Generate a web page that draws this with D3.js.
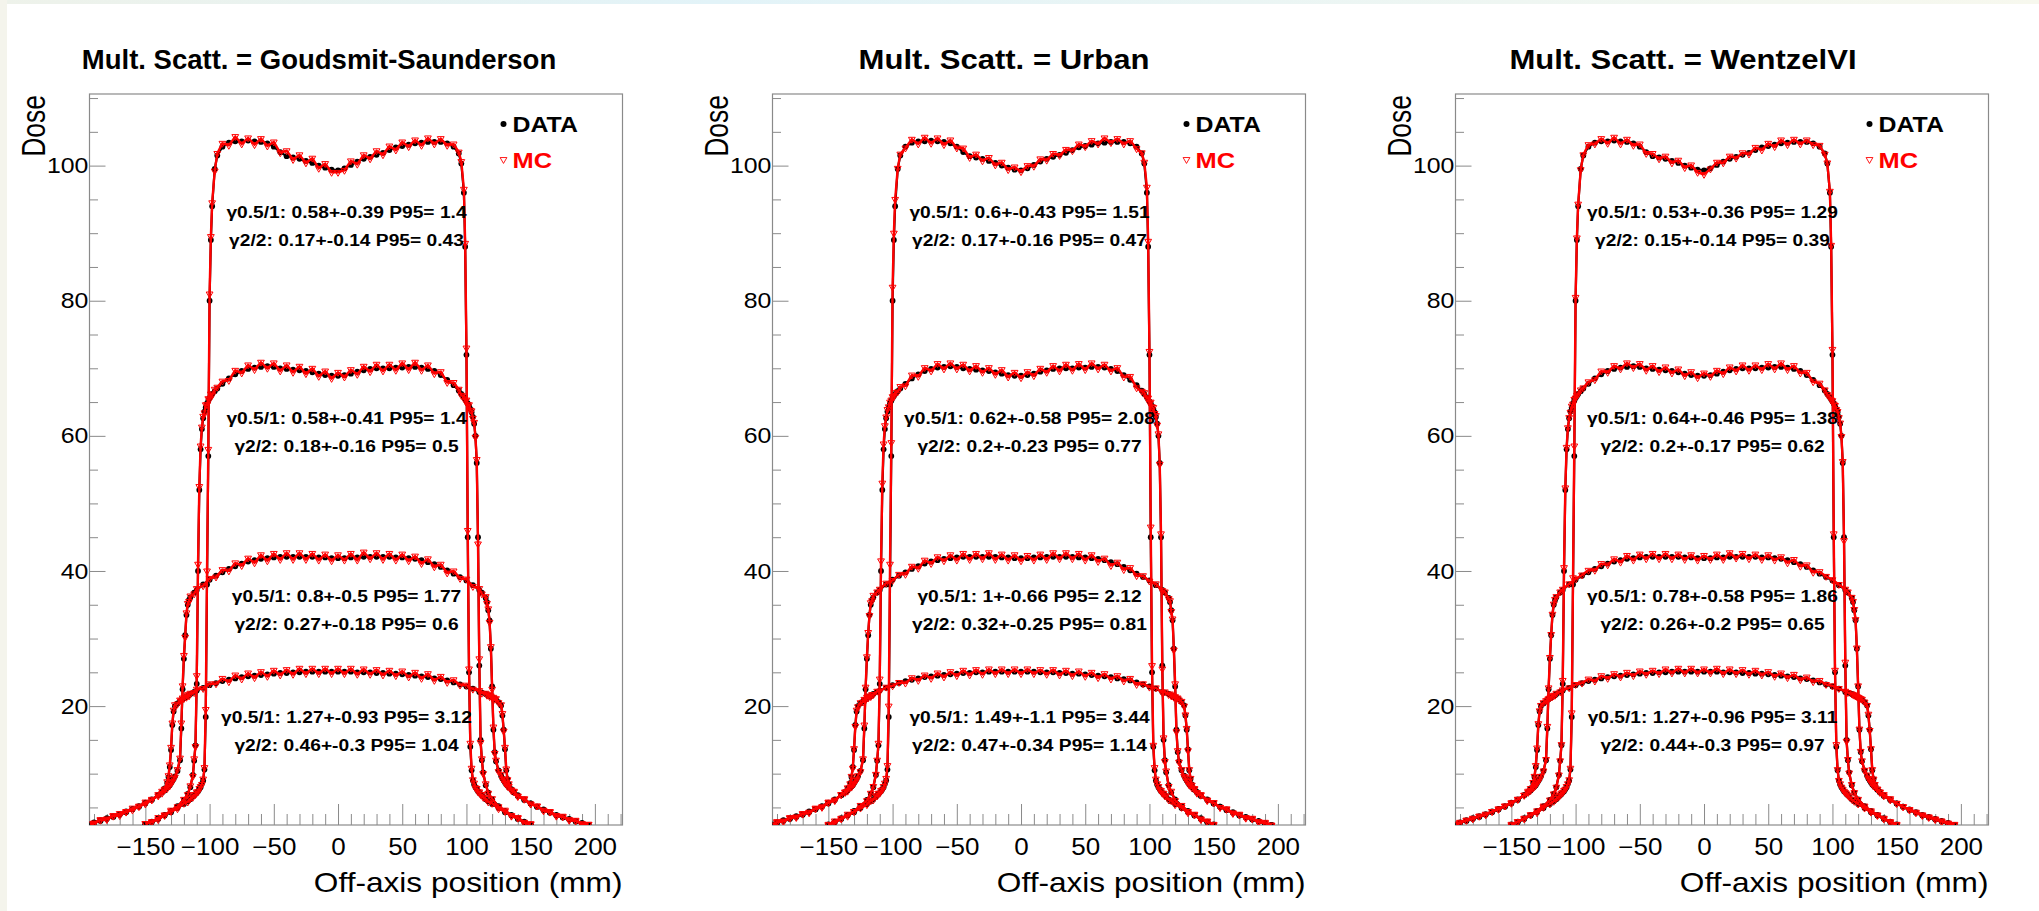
<!DOCTYPE html>
<html>
<head>
<meta charset="utf-8">
<script src="https://cdn.jsdelivr.net/npm/d3@7"></script>
<style>
  body { margin: 0; background: #fff; }
  svg text { font-family: "Liberation Sans", Arial, Helvetica, sans-serif; }
</style>
</head>
<body>
<svg id="chart" width="2039" height="911"></svg>
<script>
// ---- data ----
var panelTitles = ["Mult. Scatt. = Goudsmit-Saunderson", "Mult. Scatt. = Urban", "Mult. Scatt. = WentzelVI"];
var xTicks = [-150, -100, -50, 0, 50, 100, 150, 200];
var yTicks = [20, 40, 60, 80, 100];

// x positions (mm) for the two narrow fields and the two wide fields
var gridInner = [-150,-145,-140,-135,-130,-125,-120,
  -117,-115,-113,
  -112,-111,-110,-109,-108,-107,-106,-105,-104,-103,-102,-101,-100,-99,-98,
  -96,-94,
  -90,-85,-80,-75,-70,-65,-60,-55,-50,-45,-40,-35,-30,-25,-20,-15,-10,-5,0,5,10,15,20,25,30,35,40,45,50,55,60,65,70,75,80,85,90,
  94,96,
  98,99,100,101,102,103,104,105,106,107,108,109,110,111,112,113,
  115,117,
  120,125,130,135,140,145,150];
var gridOuter = [-193,-190,-185,-180,-175,-170,-165,-160,-155,-150,-145,-140,
  -137,-135,-133,
  -132,-131,-130,-129,-128,-127,
  -125,-123,
  -122,-121,-120,-119,-118,-117,-116,-115,
  -112,-110,
  -105,-100,-95,
  -90,-85,-80,-75,-70,-65,-60,-55,-50,-45,-40,-35,-30,-25,-20,-15,-10,-5,0,5,10,15,20,25,30,35,40,45,50,55,60,65,70,75,80,85,90,
  95,100,105,110,
  112,
  115,116,117,118,119,120,121,122,123,
  125,
  127,128,129,130,131,132,133,
  135,137,
  140,145,150,155,160,165,170,175,180,185,190,195];

// measured dose (same in every panel)
var data100 = [2.4,2.8,3.3,3.8,4.3,4.9,5.5, 5.9,6.2,6.6,
  6.8,7.0,7.2,7.4,7.7,8.0,8.5,9.0,10.6,18.4,38,57,80,89,94, 99.5,101.5,
  102.8,103.4,103.6,103.6,103.7,103.6,103.5,103.3,102.8,102.0,101.4,101.2,101.0,100.7,100.4,100.0,99.7,99.4,99.3,99.6,100.1,100.6,101.0,101.3,101.6,101.9,102.3,102.7,102.9,103.1,103.3,103.4,103.5,103.5,103.5,103.3,102.8,
  101.8,100.3, 96,88,72,45,25,14,10.5,9.0,8.4,8.0,7.7,7.4,7.2,7.0,6.8,6.6, 6.2,5.9, 5.5,4.9,4.3,3.8,3.3,2.8,2.4];
var data70 = [2.5,2.9,3.4,3.9,4.5,5.2,6.1, 7.0,8.0,9.8,
  11.9,14.2,23.3,40,52,58,61,62.6,63.6,64.2,64.8,65.2,65.6,65.9,66.2, 66.6,67.0,
  67.7,68.5,69.1,69.6,69.9,70.1,70.2,70.3,70.2,70.0,69.9,69.8,69.7,69.6,69.4,69.2,69.0,68.9,68.9,69.0,69.2,69.5,69.7,69.9,70.0,70.0,70.0,70.1,70.1,70.2,70.2,70.1,69.9,69.6,69.0,68.3,67.5,
  66.7,66.2, 65.7,65.4,65.1,64.8,64.4,64.0,63.5,62.8,61.8,60.0,56,45,26,15,12,10.2, 8.3,7.2, 6.2,5.2,4.5,3.9,3.4,2.9,2.5];
var data42 = [2.5,2.8,3.1,3.4,3.7,4.0,4.4,4.8,5.2,5.7,6.2,6.8, 7.2,7.5,7.9, 8.1,8.3,8.6,8.9,9.2,9.6, 10.4,12.0,
  16.7,22.5,27,30.5,33.5,35.0,35.7,36.1, 36.8,37.2, 38.0,38.7,39.3,
  39.8,40.3,40.7,41.1,41.4,41.6,41.8,41.9,42.0,42.1,42.1,42.1,42.1,42.1,42.1,42.0,42.0,41.9,41.9,41.9,42.0,42.0,42.1,42.1,42.1,42.1,42.1,42.0,42.0,41.9,41.8,41.6,41.3,41.0,40.6,40.1,39.6,
  39.1,38.6,37.9,37.2, 36.8, 36.0,35.4,34.2,32.7,28.5,22.9,16.5,13.2,11.8, 10.5, 9.7,9.3,9.0,8.7,8.4,8.2,8.0, 7.6,7.3,
  6.8,6.2,5.6,5.1,4.7,4.3,3.9,3.6,3.3,3.0,2.7,2.4];
var data25 = [2.4,2.7,3.0,3.3,3.6,3.9,4.3,4.7,5.1,5.6,6.1,6.8, 7.3,7.8,8.6, 9.5,11.0,13.5,17.2,19.2,20.0, 20.4,20.7,
  20.9,21.0,21.2,21.3,21.4,21.5,21.6,21.8, 22.1,22.3, 22.7,23.1,23.4,
  23.7,23.9,24.1,24.3,24.4,24.5,24.6,24.7,24.8,24.9,24.9,25.0,25.0,25.1,25.1,25.1,25.1,25.1,25.1,25.1,25.1,25.0,25.0,25.0,24.9,24.9,24.8,24.8,24.7,24.6,24.5,24.4,24.3,24.1,24.0,23.8,23.5,
  23.2,22.9,22.6,22.1, 22.0, 21.8,21.7,21.6,21.5,21.4,21.3,21.2,21.1,21.0, 20.6, 20.1,18.6,16.5,13.6,10.5,9.2,8.4, 7.7,7.2,
  6.7,6.1,5.6,5.1,4.6,4.2,3.8,3.5,3.2,2.9,2.6,2.4];

// simulated dose, Goudsmit-Saunderson
var mcGS100 = [2.6,2.9,3.2,3.9,4.4,4.8,5.6, 5.8,6.3,6.5,
  6.9,6.9,7.3,7.3,7.8,8.1,8.4,9.2,10.9,19.5,40,58,81,89.5,94.5, 99.2,101.8,
  103.3,103.0,104.3,103.2,104.1,103.1,104.0,102.9,103.5,101.9,102.2,100.9,101.6,100.4,101.1,99.6,100.3,99.0,99.0,99.3,100.7,100.2,101.6,101.0,102.2,101.6,102.9,102.3,103.5,102.8,103.8,103.0,104.1,103.2,104.0,103.0,103.2,
  102.0,100.6, 96.5,88.5,73,46,25.5,14.5,10.8,9.1,8.6,7.9,7.8,7.3,7.3,6.9,6.9,6.5, 6.3,5.8, 5.6,4.8,4.4,3.7,3.4,2.7,2.5];
var mcGS70 = [2.6,2.8,3.5,3.8,4.6,5.1,6.2, 6.9,8.2,9.6,
  12.2,14.0,24.5,41,52.5,58.5,61.3,62.9,63.4,64.6,64.6,65.5,65.4,66.2,66.0, 66.9,67.2,
  68.1,68.2,69.7,69.3,70.5,69.8,70.9,70.0,70.8,69.6,70.5,69.4,70.3,69.2,70.0,68.8,69.6,68.5,69.4,68.7,69.8,69.1,70.3,69.5,70.6,69.6,70.6,69.7,70.8,69.8,70.9,69.7,70.5,69.2,69.5,67.9,67.9,
  66.9,66.0, 65.9,65.2,65.3,64.6,64.6,63.8,63.7,62.6,62.0,59.8,56.5,44,27,14.6,12.2,10.0, 8.5,7.1, 6.3,5.1,4.6,3.8,3.5,2.8,2.6];
var mcGS42 = [2.6,2.7,3.2,3.3,3.8,4.1,4.3,4.9,5.1,5.8,6.1,6.9, 7.1,7.6,7.8, 8.2,8.2,8.7,8.8,9.3,9.5, 10.6,12.3,
  17.5,23,27.5,30.2,33.8,35.2,35.5,36.3, 36.6,37.4, 37.8,38.9,39.1,
  40.2,40.0,41.2,40.8,41.9,41.2,42.4,41.5,42.6,41.7,42.7,41.7,42.7,41.7,42.6,41.6,42.5,41.5,42.4,41.6,42.6,41.6,42.8,41.8,42.7,41.7,42.6,41.6,42.5,41.5,42.2,41.1,41.8,40.6,41.0,39.7,40.0,
  38.9,38.8,37.7,37.4, 36.6, 36.2,35.2,34.4,32.4,28.8,22.5,16.9,13.0,12.0, 10.3, 9.9,9.2,9.2,8.6,8.5,8.1,8.1, 7.5,7.4,
  6.7,6.3,5.5,5.2,4.6,4.4,3.8,3.7,3.2,3.1,2.6,2.5];
var mcGS25 = [2.5,2.6,3.1,3.2,3.7,3.8,4.4,4.6,5.2,5.5,6.2,6.7, 7.4,7.7,8.8, 9.7,11.3,13.9,17.5,19.4,20.2, 20.3,20.9,
  20.8,21.2,21.1,21.5,21.3,21.7,21.5,21.9, 22.0,22.5, 22.6,23.3,23.3,
  24.1,23.6,24.6,24.0,24.9,24.2,25.1,24.4,25.3,24.6,25.4,24.7,25.6,24.8,25.6,24.8,25.6,24.8,25.6,24.8,25.6,24.7,25.5,24.7,25.4,24.6,25.3,24.5,25.2,24.3,25.0,24.1,24.8,23.8,24.4,23.5,23.9,
  23.1,23.1,22.5,22.3, 21.9, 21.9,21.6,21.7,21.4,21.5,21.2,21.3,21.0,21.1, 20.5, 20.2,18.9,16.3,13.9,10.7,9.1,8.5, 7.6,7.3,
  6.6,6.2,5.5,5.2,4.5,4.3,3.7,3.6,3.1,3.0,2.5,2.5];

// simulated dose, Urban
var mcUrban100 = [2.5,2.7,3.4,3.7,4.4,4.9,5.4, 6.0,6.1,6.7,
  6.7,7.1,7.1,7.5,7.6,8.1,8.6,9.3,11.2,20,41,59,82,90,95, 99.6,101.7,
  102.6,103.9,103.2,104.2,103.3,104.1,103.1,103.8,102.6,102.6,101.2,101.7,100.7,101.2,100.1,100.5,99.4,99.8,99.1,100.0,99.9,101.0,100.8,101.8,101.5,102.4,102.2,103.2,102.8,103.7,103.2,104.1,103.4,104.0,103.2,103.7,102.5,
  101.9,100.5, 96.8,88.8,72.5,46.5,26,14.2,10.9,9.2,8.5,8.1,7.6,7.5,7.1,7.1,6.7,6.7, 6.1,6.0, 5.4,5.0,4.2,3.9,3.2,2.9,2.5];
var mcUrban70 = [2.4,3.0,3.3,4.0,4.4,5.3,6.0, 7.1,8.1,9.9,
  12.0,14.5,24.0,41.5,53,58.8,61.5,62.8,63.9,64.3,65.0,65.3,65.8,65.8,66.4, 66.5,67.3,
  67.4,69.0,68.8,70.1,69.6,70.7,69.9,70.8,69.9,70.6,69.6,70.4,69.4,70.1,69.1,69.8,68.7,69.4,68.6,69.5,68.9,70.0,69.4,70.4,69.6,70.6,69.7,70.7,69.8,70.8,69.9,70.6,69.6,70.1,68.7,68.8,67.1,
  66.6,66.4, 65.6,65.6,64.9,65.0,64.3,64.2,63.3,63.0,61.6,60.3,55.8,45.5,25.5,15.3,11.8,10.4, 8.1,7.4, 6.0,5.3,4.4,4.0,3.3,3.0,2.4];
var mcUrban42 = [2.4,2.9,3.0,3.5,3.6,4.1,4.3,4.9,5.1,5.8,6.1,6.9, 7.3,7.4,8.0, 8.0,8.4,8.5,9.0,9.1,9.7, 10.3,12.2,
  17.2,22.8,27.3,30.9,33.4,35.3,35.6,36.4, 36.9,37.3, 38.2,38.6,39.5,
  39.5,40.7,40.4,41.6,41.1,42.1,41.5,42.4,41.6,42.6,41.7,42.6,41.8,42.7,41.7,42.5,41.6,42.4,41.5,42.3,41.6,42.5,41.7,42.7,41.8,42.7,41.8,42.6,41.6,42.4,41.4,41.9,40.8,41.3,40.2,40.5,39.3,
  39.3,38.5,38.1,37.1, 36.9, 35.9,35.6,34.0,32.9,28.3,23.3,16.2,13.4,11.7, 10.6, 9.6,9.4,8.9,8.8,8.3,8.3,7.9, 7.7,7.2,
  6.9,6.1,5.7,5.0,4.8,4.2,4.0,3.5,3.4,2.9,2.8,2.4];
var mcUrban25 = [2.4,2.8,2.9,3.4,3.5,4.0,4.2,4.8,5.0,5.7,6.0,6.9, 7.2,7.9,8.5, 9.6,10.8,13.7,17.0,19.4,19.9, 20.5,20.6,
  21.0,20.9,21.3,21.2,21.5,21.4,21.7,21.7, 22.2,22.2, 22.8,23.0,23.5,
  23.4,24.2,23.8,24.6,24.1,24.9,24.3,25.1,24.5,25.3,24.6,25.4,24.7,25.5,24.8,25.5,24.8,25.5,24.8,25.5,24.8,25.4,24.7,25.4,24.6,25.3,24.5,25.2,24.4,25.0,24.2,24.8,24.0,24.5,23.7,24.1,23.2,
  23.3,22.8,22.7,22.0, 22.1, 21.7,21.8,21.5,21.6,21.3,21.4,21.1,21.2,20.9, 20.7, 20.0,18.7,16.7,13.4,10.6,9.3,8.3, 7.8,7.1,
  6.8,6.0,5.7,5.0,4.7,4.1,3.9,3.4,3.3,2.8,2.7,2.3];

// simulated dose, WentzelVI
var mcWentzel100 = [2.3,2.9,3.3,3.9,4.2,5.0,5.5, 5.9,6.3,6.6,
  6.8,7.1,7.2,7.5,7.7,8.1,8.5,9.1,10.8,19,39,58.5,80.5,89.3,94.3, 99.4,101.6,
  103.1,103.2,104.0,103.3,104.2,103.2,103.9,103.0,103.2,101.8,101.8,101.0,101.4,100.4,100.8,99.7,100.1,99.0,98.7,99.5,100.5,100.4,101.4,101.1,101.9,101.7,102.7,102.3,103.3,102.8,103.8,103.1,103.9,103.2,103.8,103.1,103.0,
  101.7,100.4, 96.2,88.2,72.8,45.5,25.3,14.3,10.6,9.0,8.5,8.0,7.7,7.4,7.2,7.0,6.8,6.6, 6.2,5.9, 5.5,4.9,4.3,3.8,3.3,2.8,2.4];
var mcWentzel70 = [2.5,2.9,3.4,3.9,4.5,5.2,6.1, 7.0,8.0,9.8,
  11.9,14.3,23.8,40.5,52.3,58.3,61.2,62.7,63.5,64.4,64.7,65.4,65.6,66.0,66.2, 66.8,67.1,
  68.0,68.3,69.6,69.4,70.4,69.9,70.8,70.1,70.7,69.7,70.4,69.5,70.2,69.3,69.9,68.9,69.5,68.6,69.3,68.8,69.7,69.2,70.2,69.6,70.5,69.7,70.5,69.8,70.7,69.9,70.8,69.8,70.4,69.3,69.4,68.0,67.8,
  66.8,66.1, 65.8,65.3,65.2,64.7,64.5,63.9,63.6,62.7,61.9,59.9,56.2,44.5,26.5,14.8,12.1,10.1, 8.4,7.2, 6.2,5.2,4.5,3.9,3.4,2.9,2.5];
var mcWentzel42 = [2.5,2.8,3.1,3.4,3.7,4.0,4.4,4.8,5.2,5.7,6.2,6.8, 7.2,7.5,7.9, 8.1,8.3,8.6,8.9,9.2,9.6, 10.4,12.1,
  17.0,22.7,27.2,30.6,33.6,35.1,35.8,36.2, 36.9,37.3, 38.1,38.8,39.4,
  40.1,40.1,41.1,40.9,41.8,41.3,42.3,41.6,42.5,41.8,42.6,41.8,42.6,41.8,42.5,41.7,42.4,41.6,42.3,41.7,42.5,41.7,42.7,41.9,42.6,41.8,42.5,41.7,42.4,41.6,42.1,41.2,41.7,40.7,40.9,39.8,39.9,
  39.2,38.7,38.0,37.3, 36.9, 36.1,35.5,34.3,32.8,28.6,23.0,16.6,13.3,11.9, 10.5, 9.8,9.3,9.1,8.7,8.5,8.2,8.0, 7.7,7.3,
  6.9,6.3,5.6,5.1,4.7,4.3,3.9,3.6,3.3,3.0,2.7,2.5];
var mcWentzel25 = [2.5,2.7,3.1,3.3,3.7,3.9,4.4,4.7,5.2,5.6,6.2,6.8, 7.4,7.8,8.7, 9.6,11.2,13.8,17.4,19.3,20.1, 20.5,20.8,
  20.9,21.1,21.2,21.4,21.4,21.6,21.6,21.9, 22.1,22.4, 22.7,23.2,23.4,
  24.0,23.7,24.5,24.1,24.8,24.3,25.0,24.5,25.2,24.7,25.3,24.8,25.5,24.9,25.6,24.9,25.6,24.9,25.5,24.9,25.6,24.8,25.5,24.8,25.4,24.7,25.3,24.6,25.1,24.4,24.9,24.2,24.7,23.9,24.3,23.6,23.8,
  23.2,23.0,22.6,22.2, 22.0, 21.8,21.7,21.6,21.5,21.4,21.3,21.2,21.1,21.0, 20.6, 20.1,18.8,16.4,13.7,10.6,9.2,8.4, 7.7,7.2,
  6.7,6.1,5.6,5.1,4.6,4.2,3.8,3.5,3.2,2.9,2.6,2.4];

// gamma index results printed on each plateau
var statsGS = ["γ0.5/1: 0.58+-0.39 P95= 1.4", "γ2/2: 0.17+-0.14 P95= 0.43",
  "γ0.5/1: 0.58+-0.41 P95= 1.4", "γ2/2: 0.18+-0.16 P95= 0.5",
  "γ0.5/1: 0.8+-0.5 P95= 1.77", "γ2/2: 0.27+-0.18 P95= 0.6",
  "γ0.5/1: 1.27+-0.93 P95= 3.12", "γ2/2: 0.46+-0.3 P95= 1.04"];
var statsUrban = ["γ0.5/1: 0.6+-0.43 P95= 1.51", "γ2/2: 0.17+-0.16 P95= 0.47",
  "γ0.5/1: 0.62+-0.58 P95= 2.08", "γ2/2: 0.2+-0.23 P95= 0.77",
  "γ0.5/1: 1+-0.66 P95= 2.12", "γ2/2: 0.32+-0.25 P95= 0.81",
  "γ0.5/1: 1.49+-1.1 P95= 3.44", "γ2/2: 0.47+-0.34 P95= 1.14"];
var statsWentzel = ["γ0.5/1: 0.53+-0.36 P95= 1.29", "γ2/2: 0.15+-0.14 P95= 0.39",
  "γ0.5/1: 0.64+-0.46 P95= 1.38", "γ2/2: 0.2+-0.17 P95= 0.62",
  "γ0.5/1: 0.78+-0.58 P95= 1.86", "γ2/2: 0.26+-0.2 P95= 0.65",
  "γ0.5/1: 1.27+-0.96 P95= 3.11", "γ2/2: 0.44+-0.3 P95= 0.97"];

// ---- layout ----
var SX = 1.13;   // the picture is a bit stretched sideways, text too
var frameLefts = [89.5, 772.5, 1455.5];
var titleCenters = [319, 1004, 1683];
var titleScale = [1.0, 1.13, 1.13];   // the long title was squeezed to fit its pad
var frameW = 533, frameTop = 94, frameBottom = 825;
var statBaselines = [217.7, 424, 601.7, 722.7];
var statGap = 28.3;

var dataSets = [[gridInner, data100], [gridInner, data70], [gridOuter, data42], [gridOuter, data25]];
var panels = [
  { title: panelTitles[0], mc: [mcGS100, mcGS70, mcGS42, mcGS25], stats: statsGS },
  { title: panelTitles[1], mc: [mcUrban100, mcUrban70, mcUrban42, mcUrban25], stats: statsUrban },
  { title: panelTitles[2], mc: [mcWentzel100, mcWentzel70, mcWentzel42, mcWentzel25], stats: statsWentzel }
];

var svg = d3.select("#chart");

// faint slide background at the top and left edges
var defs = svg.append("defs");
var grad = defs.append("linearGradient").attr("id", "topband");
grad.append("stop").attr("offset", "0%").attr("stop-color", "#eef2ea");
grad.append("stop").attr("offset", "35%").attr("stop-color", "#e2f3f8");
grad.append("stop").attr("offset", "100%").attr("stop-color", "#f7f8ee");
svg.append("rect").attr("x", 0).attr("y", 0).attr("width", 2039).attr("height", 4).attr("fill", "url(#topband)");
svg.append("rect").attr("x", 0).attr("y", 0).attr("width", 7).attr("height", 911).attr("fill", "#f4f4ec");

function stretched(g, x, y, str, sx) {
  return g.append("text")
    .attr("transform", "translate(" + x + "," + y + ") scale(" + (sx || SX) + ",1)")
    .text(str);
}

var tri = d3.symbol().type(d3.symbolTriangle).size(20);

panels.forEach(function(p, i) {
  var left = frameLefts[i];
  var x = d3.scaleLinear().domain([-193.5, 221.5]).range([left, left + frameW]);
  var y = d3.scaleLinear().domain([2.4, 110.6]).range([frameBottom, frameTop]);
  var g = svg.append("g");

  g.append("rect")
    .attr("x", left).attr("y", frameTop)
    .attr("width", frameW).attr("height", frameBottom - frameTop)
    .attr("fill", "#fff").attr("stroke", "#8a8a8a").attr("stroke-width", 1.2);

  // y axis: major + minor ticks drawn inward
  var yMinor = [5, 10, 15, 25, 30, 35, 45, 50, 55, 65, 70, 75, 85, 90, 95, 105, 110];
  g.append("g").attr("transform", "translate(" + left + ",0)")
    .call(d3.axisLeft(y).tickValues(yMinor).tickSize(-8.5).tickFormat(""))
    .call(function(a) { a.select(".domain").remove(); a.selectAll("line").attr("stroke", "#8a8a8a"); });
  var ya = g.append("g").attr("transform", "translate(" + left + ",0)")
    .call(d3.axisLeft(y).tickValues(yTicks).tickSize(-16).tickPadding(1).tickFormat(d3.format("d")));
  ya.select(".domain").remove();
  ya.selectAll("line").attr("stroke", "#8a8a8a");
  ya.selectAll("text").attr("font-size", 22).attr("font-family", "Liberation Sans, Arial, sans-serif")
    .attr("fill", "#000").attr("transform", "scale(" + SX + ",1)");

  // x axis
  var xMinor = d3.range(-190, 221, 10).filter(function(v) { return xTicks.indexOf(v) < 0; });
  g.append("g").attr("transform", "translate(0," + frameBottom + ")")
    .call(d3.axisBottom(x).tickValues(xMinor).tickSize(-11).tickFormat(""))
    .call(function(a) { a.select(".domain").remove(); a.selectAll("line").attr("stroke", "#8a8a8a"); });
  var xa = g.append("g").attr("transform", "translate(0," + frameBottom + ")")
    .call(d3.axisBottom(x).tickValues(xTicks).tickSize(-21).tickPadding(13.5).tickFormat(d3.format("d")));
  xa.select(".domain").remove();
  xa.selectAll("line").attr("stroke", "#8a8a8a");
  xa.selectAll("text").attr("font-size", 23).attr("font-family", "Liberation Sans, Arial, sans-serif")
    .attr("fill", "#000").attr("transform", "scale(" + SX + ",1)");

  // titles
  stretched(g, titleCenters[i], 69, p.title, titleScale[i])
    .attr("text-anchor", "middle").attr("font-size", 27.5).attr("font-weight", "bold");
  g.append("text")
    .attr("transform", "translate(" + (left - 45) + "," + (frameTop + 1) + ") scale(1.22,1) rotate(-90)")
    .attr("text-anchor", "end").attr("font-size", 26.5).text("Dose");
  stretched(g, left + frameW, 892, "Off-axis position (mm)")
    .attr("text-anchor", "end").attr("font-size", 28);

  // curves
  var clipId = "clip" + i;
  defs.append("clipPath").attr("id", clipId).append("rect")
    .attr("x", left).attr("y", frameTop).attr("width", frameW).attr("height", frameBottom - frameTop);
  var plot = g.append("g").attr("clip-path", "url(#" + clipId + ")");
  var line = d3.line().x(function(d) { return x(d[0]); }).y(function(d) { return y(d[1]); });

  dataSets.forEach(function(ds) {
    var pts = d3.zip(ds[0], ds[1]);
    plot.append("path").attr("d", line(pts)).attr("fill", "none").attr("stroke", "#000").attr("stroke-width", 2.2);
    plot.append("g").selectAll("circle").data(pts).enter().append("circle")
      .attr("cx", function(d) { return x(d[0]); }).attr("cy", function(d) { return y(d[1]); })
      .attr("r", 2.9).attr("fill", "#000");
  });
  p.mc.forEach(function(vals, k) {
    var pts = d3.zip(dataSets[k][0], vals);
    plot.append("path").attr("d", line(pts)).attr("fill", "none").attr("stroke", "#ff0000").attr("stroke-width", 2.4);
    plot.append("g").selectAll("path").data(pts).enter().append("path")
      .attr("d", tri)
      .attr("transform", function(d) { return "translate(" + x(d[0]) + "," + y(d[1]) + ") rotate(180)"; })
      .attr("fill", "none").attr("stroke", "#ff0000").attr("stroke-width", 1);
  });

  // legend
  g.append("circle").attr("cx", left + 414).attr("cy", 124).attr("r", 3).attr("fill", "#000");
  stretched(g, left + 423, 131.7, "DATA").attr("font-size", 22).attr("font-weight", "bold");
  g.append("path").attr("d", tri).attr("transform", "translate(" + (left + 414) + ",159.5) rotate(180)")
    .attr("fill", "none").attr("stroke", "#ff0000").attr("stroke-width", 0.9);
  stretched(g, left + 423, 168.3, "MC").attr("font-size", 22.5).attr("font-weight", "bold").attr("fill", "#ff0000");

  // gamma results
  statBaselines.forEach(function(b, k) {
    stretched(g, left + 257, b, p.stats[2 * k]).attr("text-anchor", "middle").attr("font-size", 17).attr("font-weight", "bold");
    stretched(g, left + 257, b + statGap, p.stats[2 * k + 1]).attr("text-anchor", "middle").attr("font-size", 17).attr("font-weight", "bold");
  });
});
</script>
</body>
</html>
